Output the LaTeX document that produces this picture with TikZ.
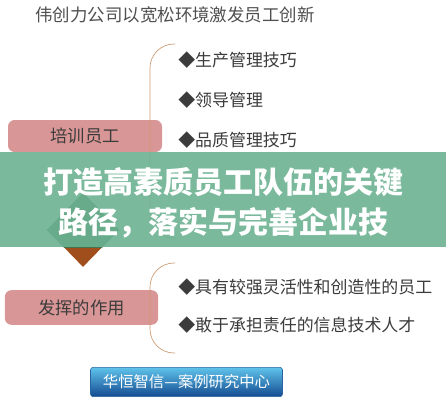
\documentclass[tikz,border=0pt]{standalone}
\usepackage{fontspec}
\setmainfont{Noto Sans CJK SC}
\usetikzlibrary{shapes.geometric}

\definecolor{boxpink}{RGB}{217,150,150}
\definecolor{bracecol}{RGB}{205,155,115}
\definecolor{bannergreen}{RGB}{108,178,146}
\definecolor{diabrown}{RGB}{160,78,28}
\definecolor{diagreen}{RGB}{70,115,80}
\definecolor{txtgray}{RGB}{60,60,60}

\tikzset{
  topicbox/.style={draw=none,fill=boxpink,rounded corners=5pt,minimum height=24pt,
    text=txtgray,font=\fontsize{13}{15}\selectfont},
  bulletitem/.style={anchor=west,inner sep=0pt,text=txtgray,font=\fontsize{12.7}{14}\selectfont},
  brace/.style={draw=bracecol,line width=.5pt,rounded corners=18pt},
}

\begin{document}
\begin{tikzpicture}[x=0.75pt,y=-0.75pt]
      \useasboundingbox (0,0) rectangle (446,400);
      \fill[white] (0,0) rectangle (446,400);
      \pgfmathsetmacro{\xi}{178}

      \node[text=txtgray!90,font=\fontsize{13.1}{15}\selectfont,anchor=west,inner sep=0pt] (title) at (35,15) {伟创力公司以宽松环境激发员工创新};

      % upper group
      \node[topicbox,minimum width=115.5pt] (train) at (85,136) {培训员工};
      \node[bulletitem] (i1) at (\xi,60) {◆生产管理技巧};
      \node[bulletitem] (i2) at (\xi,100) {◆领导管理};
      \node[bulletitem] (i3) at (\xi,140) {◆品质管理技巧};
      \coordinate (b1top) at (175,44);
      \coordinate (b1bot) at (175,238);
      \draw[brace] (b1top) -- (150,44) -- (150,238) -- (b1bot);

      \node[draw=none,fill=diabrown,shape=diamond,minimum width=54pt,minimum height=55.5pt,inner sep=0pt,aspect=1] (dia) at (83,230) {};

      % lower group
      \node[topicbox,minimum width=115pt,minimum height=26pt] (role) at (81.5,307.5) {发挥的作用};
      \node[bulletitem] (j1) at (\xi,287) {◆具有较强灵活性和创造性的员工};
      \node[bulletitem] (j2) at (\xi,325) {◆敢于承担责任的信息技术人才};
      \coordinate (b2top) at (175,263);
      \coordinate (b2bot) at (175,353);
      \draw[brace] (b2top) -- (150,263) -- (150,353) -- (b2bot);

      % banner
      \begin{scope}
        \clip (0,152) rectangle (446,247);
        \fill[diagreen] (dia.north) -- (dia.east) -- (dia.south) -- (dia.west) -- cycle;
      \end{scope}
      \fill[bannergreen,opacity=.9] (0,152) rectangle (446,247);
      \node[text=white,font=\fontsize{22.5}{30}\bfseries\selectfont,align=center,inner sep=0pt] (head) at (223,203)
        {打造高素质员工队伍的关键\\路径，落实与完善企业技};

      % footer button
      \node[rounded corners=2pt,top color={rgb,255:red,95;green,195;blue,235},bottom color={rgb,255:red,20;green,75;blue,145},
        draw={rgb,255:red,40;green,100;blue,160},minimum width=144pt,minimum height=22pt,text=white,
        font=\fontsize{11.5}{13}\selectfont] (logo) at (186.5,382) {华恒智信—案例研究中心};
    \end{tikzpicture}
\end{document}
